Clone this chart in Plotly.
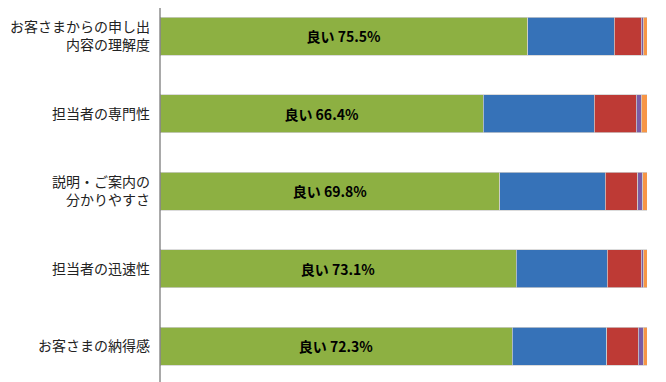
import plotly.graph_objects as go

categories = ["お客さまからの申し出<br>内容の理解度", "担当者の専門性", "説明・ご案内の<br>分かりやすさ", "担当者の迅速性", "お客さまの納得感"]
series_names = ["良い", "やや良い", "普通", "やや悪い", "悪い"]
good = [75.5, 66.4, 69.8, 73.1, 72.3]
fairly_good = [17.8, 22.8, 21.6, 18.7, 19.4]
neutral = [5.5, 8.6, 6.7, 7.0, 6.5]
fairly_bad = [0.4, 1.0, 1.0, 0.4, 1.0]
bad = [0.8, 1.2, 0.9, 0.8, 0.8]
colors = ["#8DB042", "#3672B8", "#BE3A35", "#7A5CA5", "#F79646"]

values = [good, fairly_good, neutral, fairly_bad, bad]
ypos = list(range(len(categories)))

W, H = 658, 374  # page has an 8px body margin

fig = go.Figure()
for i, (name, vals) in enumerate(zip(series_names, values)):
    kw = {}
    if i == 0:
        kw = dict(
            text=[f"良い {v:.1f}%" for v in vals],
            textposition="inside",
            insidetextanchor="middle",
            textfont=dict(family="Noto Sans CJK JP", size=14, color="black", weight="bold"),
        )
    fig.add_trace(go.Bar(
        x=vals, y=ypos, orientation="h", name=name,
        marker=dict(color=colors[i], line=dict(color="#cfcfcf", width=0.75)),
        width=0.49, hoverinfo="skip", **kw,
    ))

fig.add_shape(type="line", xref="paper", yref="paper", x0=0, x1=0, y0=0, y1=1 + 8 / H,
              line=dict(color="#555", width=1))

fig.update_layout(
    barmode="stack",
    width=W, height=H,
    margin=dict(l=152, r=19, t=0, b=0, autoexpand=False),
    paper_bgcolor="white", plot_bgcolor="white",
    showlegend=False,
    font=dict(family="Noto Sans CJK JP", size=14, color="#222"),
    xaxis=dict(range=[0, 100], visible=False, fixedrange=True, automargin=False),
    yaxis=dict(
        range=[4.459, -0.361], tickvals=ypos, ticktext=categories, automargin=False,
        showgrid=False, zeroline=False, showline=False,
        ticks="", ticklabelstandoff=9, tickfont=dict(size=14, color="#222"),
    ),
)
fig.write_html("out.html")
